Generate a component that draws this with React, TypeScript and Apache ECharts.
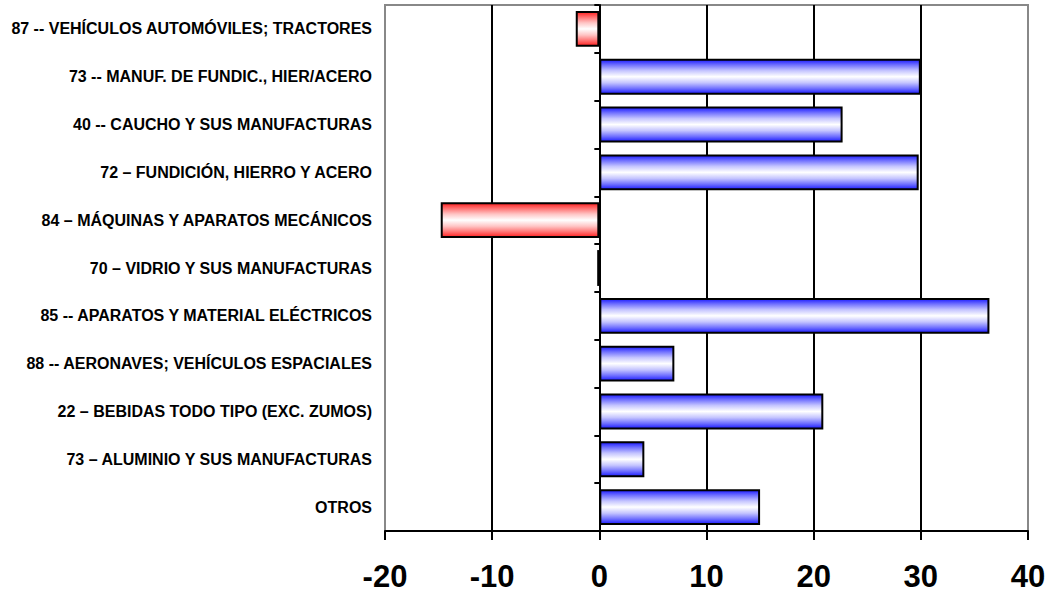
import React, { useEffect, useRef } from "react";
import * as echarts from "echarts";

const categories = [
  "87 -- VEHÍCULOS AUTOMÓVILES; TRACTORES",
  "73 -- MANUF. DE FUNDIC., HIER/ACERO",
  "40 -- CAUCHO Y SUS MANUFACTURAS",
  "72 – FUNDICIÓN, HIERRO Y ACERO",
  "84 – MÁQUINAS Y APARATOS MECÁNICOS",
  "70 – VIDRIO Y SUS MANUFACTURAS",
  "85 -- APARATOS Y MATERIAL ELÉCTRICOS",
  "88 -- AERONAVES; VEHÍCULOS ESPACIALES",
  "22 – BEBIDAS TODO TIPO (EXC. ZUMOS)",
  "73 – ALUMINIO Y SUS MANUFACTURAS",
  "OTROS",
];

const values = [-2.2, 30.0, 22.7, 29.8, -14.8, -0.2, 36.4, 7.0, 20.9, 4.2, 15.0];

const xMin = -20;
const xMax = 40;
const xStep = 10;

const blueFill = new echarts.graphic.LinearGradient(0, 0, 0, 1, [
  { offset: 0, color: "#1c1cff" },
  { offset: 0.15, color: "#7070ff" },
  { offset: 0.32, color: "#c4c4ff" },
  { offset: 0.5, color: "#ffffff" },
  { offset: 0.68, color: "#c4c4ff" },
  { offset: 0.85, color: "#7070ff" },
  { offset: 1, color: "#1c1cff" },
]);

const redFill = new echarts.graphic.LinearGradient(0, 0, 0, 1, [
  { offset: 0, color: "#ff2020" },
  { offset: 0.15, color: "#ff7070" },
  { offset: 0.32, color: "#ffc4c4" },
  { offset: 0.5, color: "#ffffff" },
  { offset: 0.68, color: "#ffc4c4" },
  { offset: 0.85, color: "#ff7070" },
  { offset: 1, color: "#ff2020" },
]);

export default function App() {
  const ref = useRef<HTMLDivElement>(null);
  useEffect(() => {
    if (!ref.current) return;
    const chart = echarts.init(ref.current, undefined, { renderer: "svg" });
    const font = "'Liberation Sans', Arial, sans-serif";
    chart.setOption({
      animation: false,
      grid: {
        left: 385,
        right: 23,
        top: 5,
        bottom: 65,
        show: true,
        borderColor: "#888888",
        borderWidth: 2,
        backgroundColor: "transparent",
      },
      xAxis: {
        type: "value",
        min: xMin,
        max: xMax,
        interval: xStep,
        axisLine: { show: true, onZero: false, lineStyle: { color: "#000", width: 2 } },
        axisTick: { show: true, length: 9, lineStyle: { color: "#000", width: 2 } },
        axisLabel: {
          fontFamily: font,
          fontWeight: "bold",
          fontSize: 31,
          color: "#000",
          margin: 30,
        },
        splitLine: {
          show: true,
          showMinLine: false,
          showMaxLine: false,
          lineStyle: { color: "#000", width: 2 },
        },
      },
      yAxis: [
        {
          type: "category",
          data: categories,
          inverse: true,
          axisLine: { show: true, onZero: true, lineStyle: { color: "#000", width: 2 } },
          axisTick: { show: true, length: 5, lineStyle: { color: "#000", width: 2 } },
          axisLabel: { show: false },
          splitLine: { show: false },
          z: 5,
        },
        {
          type: "category",
          data: categories,
          inverse: true,
          position: "left",
          axisLine: { show: false, onZero: false },
          axisTick: { show: false },
          axisLabel: {
            show: true,
            fontFamily: font,
            fontWeight: "bold",
            fontSize: 16,
            color: "#000",
            margin: 13,
          },
          splitLine: { show: false },
        },
      ],
      series: [
        {
          type: "bar",
          yAxisIndex: 0,
          barCategoryGap: "25%",
          data: values.map((v) => ({
            value: v,
            itemStyle: {
              color: v < 0 ? redFill : blueFill,
              borderColor: "#000",
              borderWidth: 2,
            },
          })),
          z: 3,
        },
      ],
    });
    return () => chart.dispose();
  }, []);
  return (
    <div
      ref={ref}
      style={{ position: "absolute", left: 0, top: 0, width: 1051, height: 596 }}
    />
  );
}
